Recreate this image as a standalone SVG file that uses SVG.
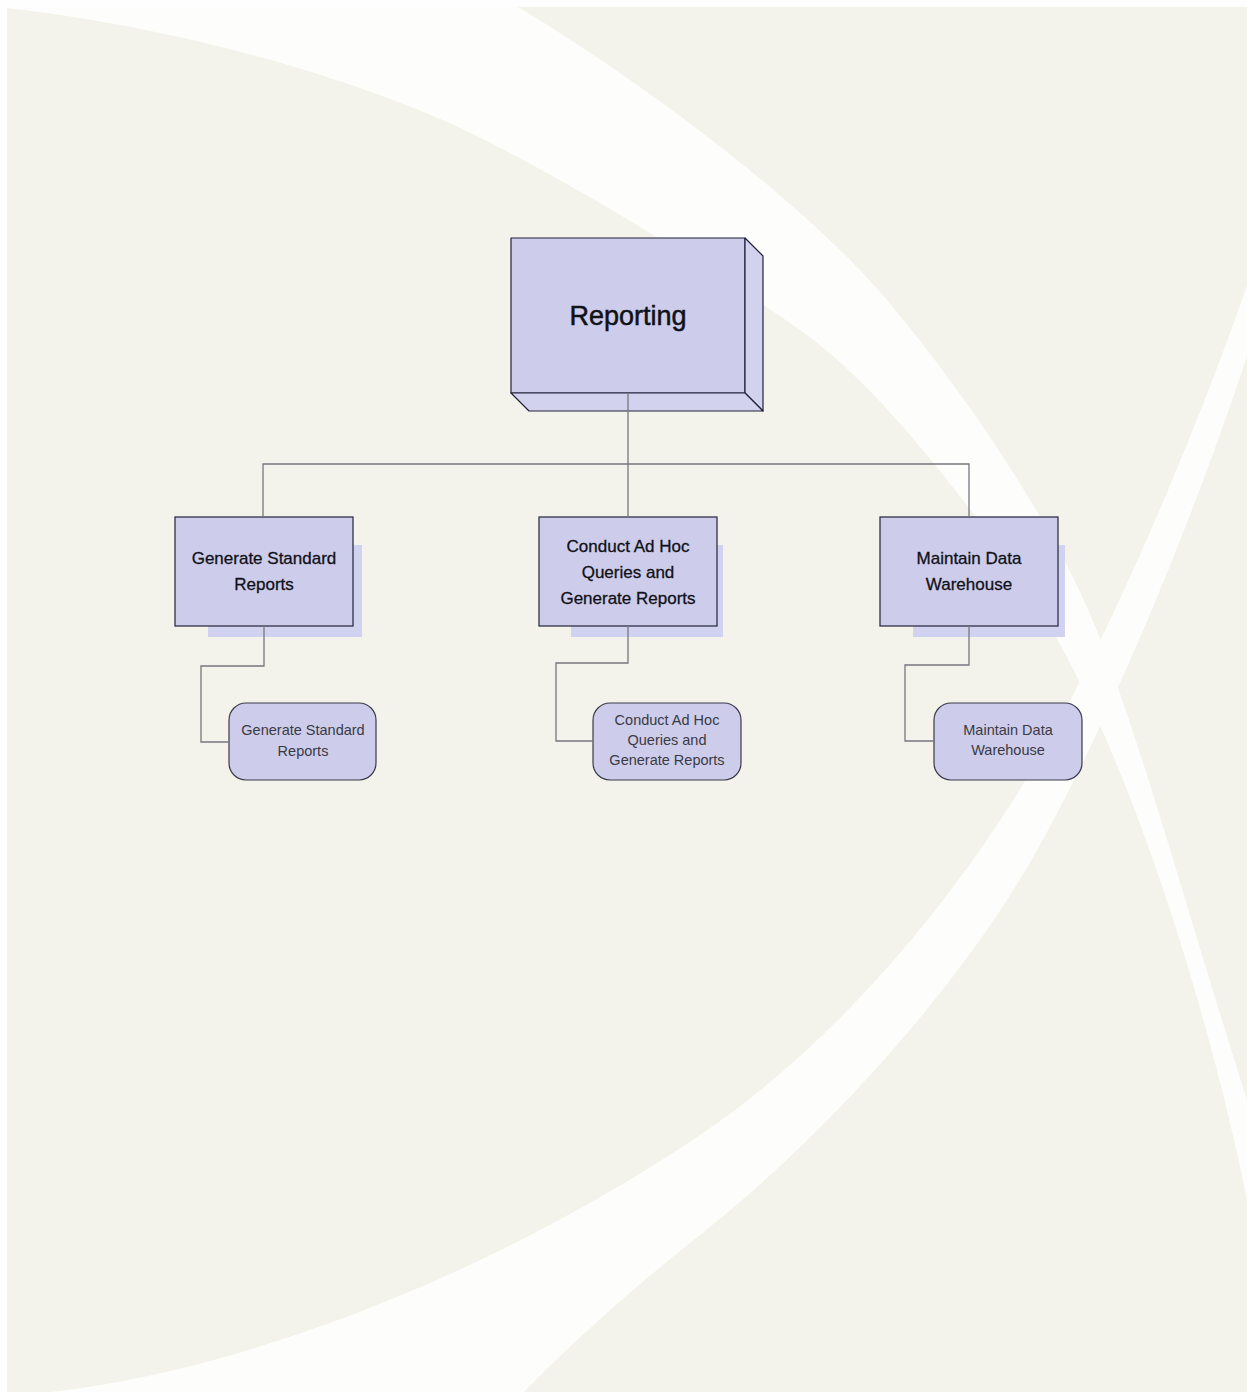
<svg xmlns="http://www.w3.org/2000/svg" width="1247" height="1392" viewBox="0 0 1247 1392">
<style>
.bg{fill:#f3f3eb}
.band{fill:#fdfdfb}
.face{fill:#cdcdeb;stroke:#22223a;stroke-width:1.2;stroke-linejoin:round}
.side{fill:#d2d2ef;stroke:#22223a;stroke-width:1.2;stroke-linejoin:round}
.box{fill:#cdcdeb;stroke:#22223a;stroke-width:1.2}
.shadow{fill:#d1d1f0}
.rbox{fill:#cdcdeb;stroke:#3a3a4a;stroke-width:1.2}
.conn{fill:none;stroke:#77777f;stroke-width:1.3}
text{font-family:"Liberation Sans",Arial,sans-serif;text-anchor:middle}
.t1{font-size:27px;fill:#111118;stroke:#111118;stroke-width:0.5}
.t2{font-size:17px;fill:#111118;stroke:#111118;stroke-width:0.3}
.t3{font-size:14.5px;fill:#3a3a44}
</style>
<g id="background">
<rect x="0" y="0" width="1247" height="1392" fill="#fefefe"/>
<rect class="bg" x="7" y="7" width="1240" height="1385"/>
<path class="band" d="M7 7 L518 7 C640 80 800 200 880 292 C960 385 1060 530 1103 646 C1146 760 1190 920 1247 1100 L1247 1200 C1215 1040 1145 800 1062 648 C1022 575 900 400 800 330 C710 267 560 175 458 127 C370 86 200 30 7 8 Z"/>
<path class="band" d="M50 1392 C250 1370 500 1270 700 1135 C850 1034 980 870 1060 720 C1140 570 1215 380 1247 285 L1247 356 C1200 500 1120 700 1040 845 C960 990 820 1140 700 1235 C620 1298 560 1355 524 1392 Z"/>
</g>
<g id="node-reporting">
<rect class="face" x="511" y="238" width="234" height="155"/>
<polygon class="side" points="745,238 763,256 763,411 745,393"/>
<polygon class="side" points="511,393 745,393 763,411 529,411"/>
<text class="t1" x="628" y="325">Reporting</text>
</g>
<g id="node-gsr">
<rect class="shadow" x="208" y="545" width="154" height="92"/>
<rect class="box" x="175" y="517" width="178" height="109"/>
<text class="t2" x="264" y="564">Generate Standard</text>
<text class="t2" x="264" y="590">Reports</text>
</g>
<g id="node-adhoc">
<rect class="shadow" x="571" y="545" width="152" height="92"/>
<rect class="box" x="539" y="517" width="178" height="109"/>
<text class="t2" x="628" y="552">Conduct Ad Hoc</text>
<text class="t2" x="628" y="578">Queries and</text>
<text class="t2" x="628" y="604">Generate Reports</text>
</g>
<g id="node-mdw">
<rect class="shadow" x="913" y="545" width="152" height="92"/>
<rect class="box" x="880" y="517" width="178" height="109"/>
<text class="t2" x="969" y="564">Maintain Data</text>
<text class="t2" x="969" y="590">Warehouse</text>
</g>
<g id="node-gsr-sub">
<rect class="rbox" x="229" y="703" width="147" height="77" rx="17" ry="17"/>
<text class="t3" x="303" y="735">Generate Standard</text>
<text class="t3" x="303" y="756">Reports</text>
</g>
<g id="node-adhoc-sub">
<rect class="rbox" x="593" y="703" width="148" height="77" rx="17" ry="17"/>
<text class="t3" x="667" y="725">Conduct Ad Hoc</text>
<text class="t3" x="667" y="745">Queries and</text>
<text class="t3" x="667" y="765">Generate Reports</text>
</g>
<g id="node-mdw-sub">
<rect class="rbox" x="934" y="703" width="148" height="77" rx="17" ry="17"/>
<text class="t3" x="1008" y="735">Maintain Data</text>
<text class="t3" x="1008" y="755">Warehouse</text>
</g>
<g id="connectors">
<polyline class="conn" points="628,393 628,517"/>
<polyline class="conn" points="263,517 263,464 969,464 969,517"/>
<polyline class="conn" points="264,626 264,666 201,666 201,742 229,742"/>
<polyline class="conn" points="628,626 628,663 556,663 556,741 593,741"/>
<polyline class="conn" points="969,626 969,665 905,665 905,741 934,741"/>
</g>
</svg>
